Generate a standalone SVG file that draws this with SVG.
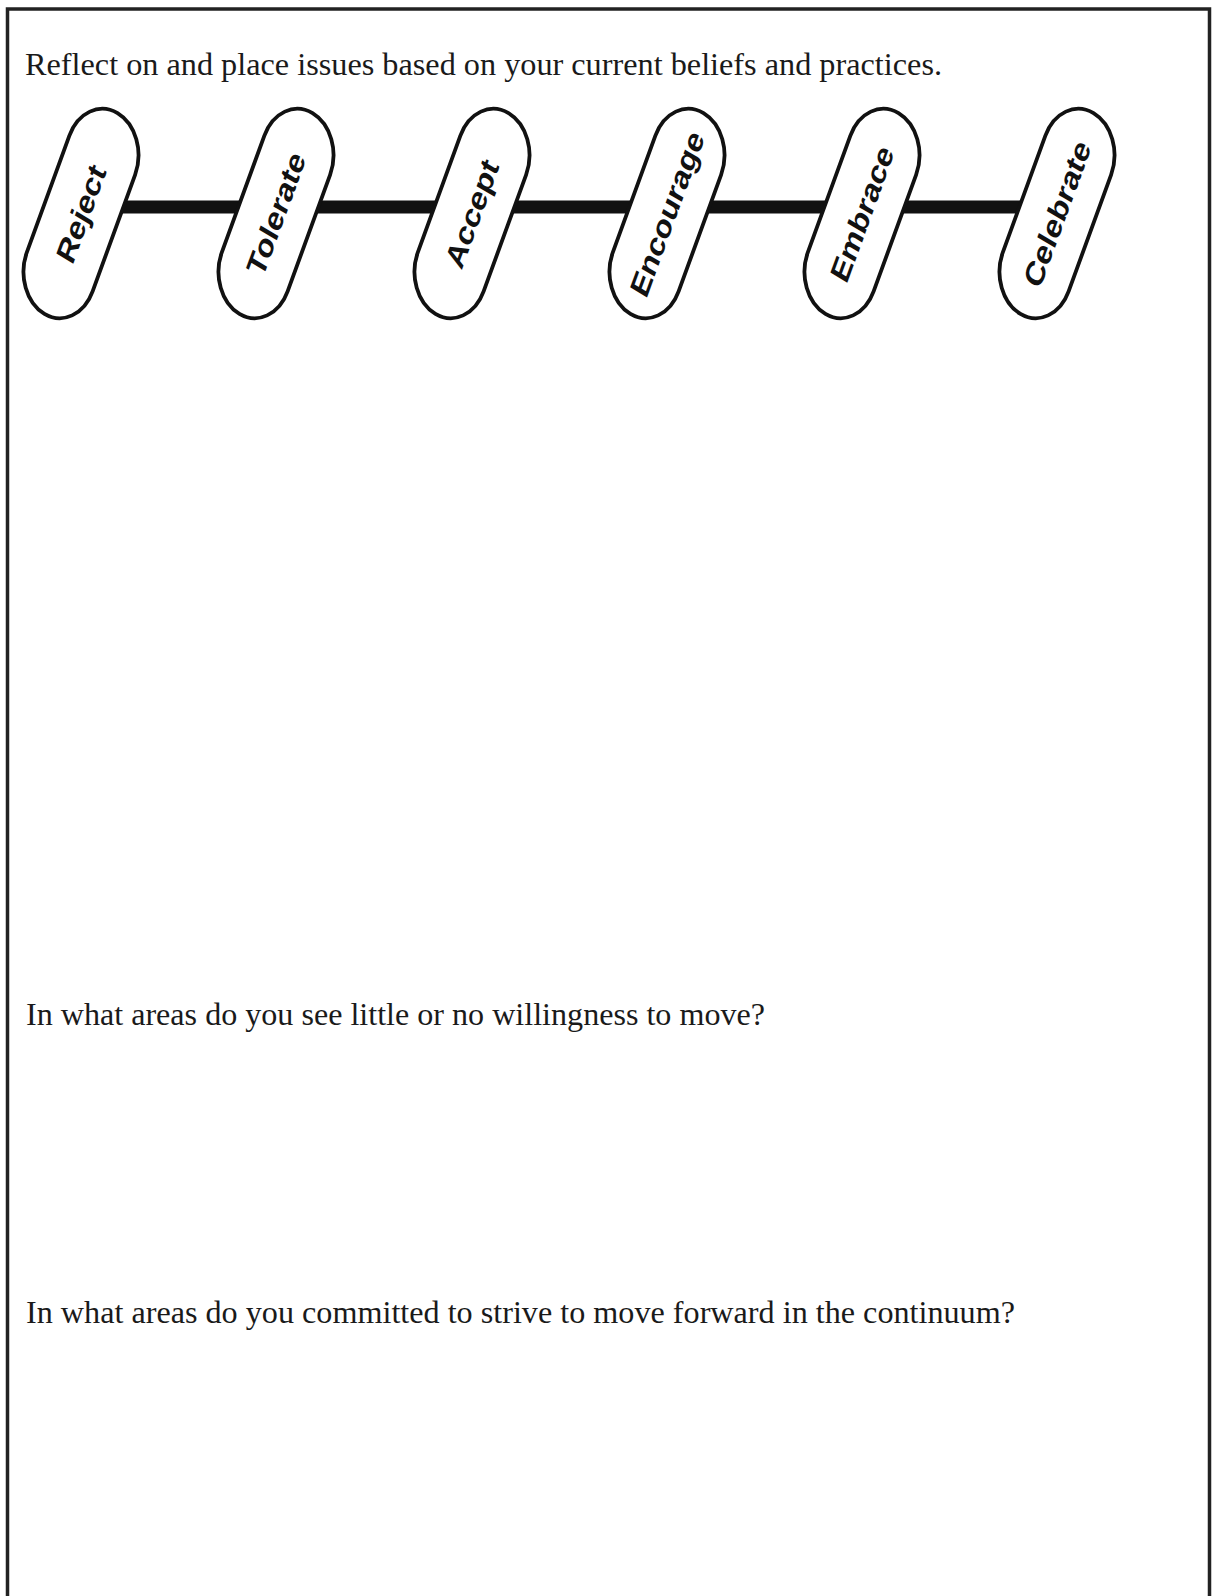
<svg xmlns="http://www.w3.org/2000/svg" width="1212" height="1596" viewBox="0 0 1212 1596">
<style>
.q{font-family:"Liberation Serif","Times New Roman",serif;font-size:32px;fill:#1a1a1a}
.pill{fill:#fff;stroke:#111;stroke-width:3.8;vector-effect:non-scaling-stroke}
.lbl{font-family:"Liberation Sans",Arial,sans-serif;font-size:27px;font-weight:bold;fill:#111;text-anchor:middle}
</style>
<rect width="1212" height="1596" fill="#fff"/>
<path d="M7.5,1600 V9 H1209.5 V1600" fill="none" stroke="#222" stroke-width="3.5"/>
<text class="q" x="25" y="75" textLength="917" lengthAdjust="spacingAndGlyphs">Reflect on and place issues based on your current beliefs and practices.</text>
<g id="connectors">
<line x1="81" y1="207" x2="1057" y2="207" stroke="#111" stroke-width="13"/>
</g>
<g id="reject" transform="translate(81,213.5) scale(1,1.28) rotate(25)">
<rect class="pill" x="-36.25" y="-86.5" width="72.5" height="173" rx="36.25"/>
<text class="lbl" transform="rotate(-90)" x="0" y="9.5">Reject</text>
</g>
<g id="tolerate" transform="translate(276,213.5) scale(1,1.28) rotate(25)">
<rect class="pill" x="-36.25" y="-86.5" width="72.5" height="173" rx="36.25"/>
<text class="lbl" transform="rotate(-90)" x="0" y="9.5">Tolerate</text>
</g>
<g id="accept" transform="translate(472,213.5) scale(1,1.28) rotate(25)">
<rect class="pill" x="-36.25" y="-86.5" width="72.5" height="173" rx="36.25"/>
<text class="lbl" transform="rotate(-90)" x="0" y="9.5">Accept</text>
</g>
<g id="encourage" transform="translate(667,213.5) scale(1,1.28) rotate(25)">
<rect class="pill" x="-36.25" y="-86.5" width="72.5" height="173" rx="36.25"/>
<text class="lbl" transform="rotate(-90)" x="0" y="9.5">Encourage</text>
</g>
<g id="embrace" transform="translate(862,213.5) scale(1,1.28) rotate(25)">
<rect class="pill" x="-36.25" y="-86.5" width="72.5" height="173" rx="36.25"/>
<text class="lbl" transform="rotate(-90)" x="0" y="9.5">Embrace</text>
</g>
<g id="celebrate" transform="translate(1057,213.5) scale(1,1.28) rotate(25)">
<rect class="pill" x="-36.25" y="-86.5" width="72.5" height="173" rx="36.25"/>
<text class="lbl" transform="rotate(-90)" x="0" y="9.5">Celebrate</text>
</g>
<text class="q" x="26" y="1025" textLength="739" lengthAdjust="spacingAndGlyphs">In what areas do you see little or no willingness to move?</text>
<text class="q" x="26" y="1323" textLength="989" lengthAdjust="spacingAndGlyphs">In what areas do you committed to strive to move forward in the continuum?</text>
</svg>
